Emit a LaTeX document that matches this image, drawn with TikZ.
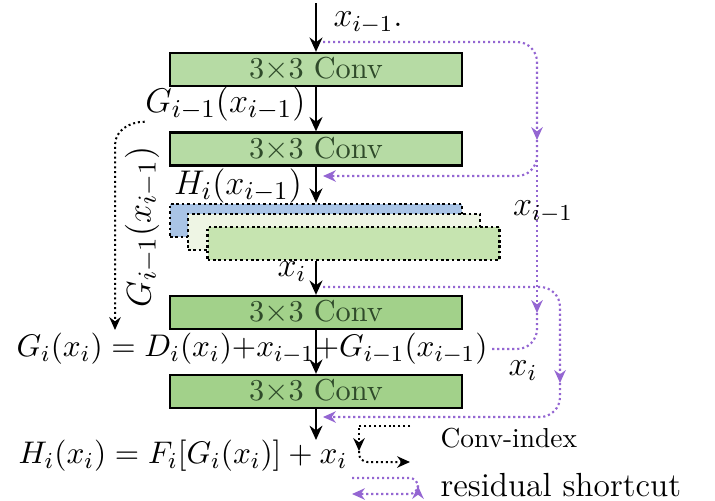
\documentclass[tikz,border=0pt]{standalone}
\usepackage{amsmath}
\usetikzlibrary{arrows.meta}
\definecolor{convgreen}{HTML}{B6DBA4}
\definecolor{convdark}{HTML}{A2D18A}
\definecolor{mapblue}{HTML}{A9C4E6}
\definecolor{mappale}{HTML}{EEF5E4}
\definecolor{mapgreen}{HTML}{C6E4B0}
\definecolor{shortcut}{HTML}{9466D2}
\definecolor{convtext}{HTML}{2F4A2A}

\tikzset{
  convbox/.style={draw, line width=0.8pt, minimum width=102.2pt, minimum height=11.55pt, inner sep=0pt, text=convtext, font=\fontsize{10.6}{12}\selectfont},
  mapbox/.style={draw, densely dotted, line width=0.9pt, minimum width=102.2pt, inner sep=0pt},
  flow/.style={line width=0.8pt, -{Stealth[length=5pt,width=4.5pt]}},
  idx/.style={densely dotted, line width=0.7pt, -{Stealth[length=4.5pt,width=4pt]}},
  res/.style={densely dotted, line width=0.75pt, shortcut, rounded corners=7pt, -{Stealth[length=4.5pt,width=4pt]}},
  lbl/.style={font=\fontsize{13}{15}\selectfont, inner sep=0pt},
  xlbl/.style={font=\fontsize{12}{14}\selectfont, inner sep=0pt},
}

\begin{document}
\begin{tikzpicture}[x=0.35pt,y=-0.35pt]
    \useasboundingbox (0,0) rectangle (715,500);
    % main column
    \node[convbox, fill=convgreen] (conv1) at (316,69.5) {3$\times$3 Conv};
    \node[convbox, fill=convgreen] (conv2) at (316,149) {3$\times$3 Conv};
    \node[mapbox, fill=mapblue, minimum height=11.55pt] (map1) at (316,220.5) {};
    \node[mapbox, fill=mappale, minimum height=12.6pt] (map2) at (334,232) {};
    \node[mapbox, fill=mapgreen, minimum height=11.55pt] (map3) at (353.5,243.5) {};
    \node[convbox, fill=convdark] (conv3) at (316,312.5) {3$\times$3 Conv};
    \node[convbox, fill=convdark] (conv4) at (316,391.5) {3$\times$3 Conv};

    \coordinate (in) at (316,3);
    \coordinate (out) at (316,440);
    \draw[flow] (in) -- (conv1);
    \draw[flow] (conv1) -- (conv2);
    \draw[flow] (conv2) -- (map1.north);
    \draw[flow] (conv3.north |- map3.south) -- (conv3);
    \draw[flow] (conv3) -- (conv4);
    \draw[flow] (conv4) -- (out);

    \node[xlbl, anchor=west] (xin) at (333,23) {$x_{i-1}$.};
    \node[lbl, anchor=east] (g1) at (306,104) {$G_{i-1}(x_{i-1})$};
    \node[lbl] (h1) at (238,186) {$H_i(x_{i-1})$};
    \node[xlbl] (xi) at (292,272) {$x_i$};
    \node[font=\fontsize{11.4}{13}\selectfont, inner sep=1pt] (gform) at (252,349) {$G_i(x_i) = D_i(x_i){+}x_{i-1}{+}G_{i-1}(x_{i-1})$};
    \node[font=\fontsize{11.2}{13}\selectfont, inner sep=0pt] (hform) at (183,456) {$H_i(x_i) = F_i[G_i(x_i)] + x_i$};

    % conv-index path on the left
    \coordinate (gdown) at (115,330);
    \draw[idx] (g1.south west) to[out=180,in=90] (115,145) -- (gdown);
    \node[lbl, rotate=90] (g1rot) at (142,227) {$G_{i-1}(x_{i-1})$};

    % residual shortcuts
    \coordinate (s1) at (323,42);
    \coordinate (r1) at (537,140);
    \coordinate (e1) at (323,176);
    \coordinate (r2) at (537,313);
    \coordinate (s2) at (323,287);
    \coordinate (r3) at (560,383);
    \coordinate (e2) at (323,417);
    \draw[res] (s1) -| (r1);
    \draw[res] (r1) |- (e1);
    \draw[res] (r1) -- (r2);
    \draw[res, -] (r2) |- (gform.east);
    \draw[res] (s2) -| (r3);
    \draw[res] (r3) |- (e2);
    \node[xlbl] (xr1) at (543,212) {$x_{i-1}$};
    \node[xlbl] (xr2) at (523,371) {$x_i$};

    % legend
    \coordinate (la) at (410,426);
    \coordinate (lb) at (359,451);
    \coordinate (lc) at (410,462);
    \draw[idx] (la) -| (lb);
    \draw[idx, rounded corners=3pt] (lb) |- (lc);
    \node[anchor=west, inner sep=0pt, font=\fontsize{9.6}{11}\selectfont] (lconv) at (440,438) {Conv-index};
    \coordinate (ld) at (352,478);
    \coordinate (le) at (418,486);
    \coordinate (lf) at (352,494);
    \draw[res, rounded corners=3pt] (ld) -| (le);
    \draw[res, rounded corners=3pt] (le) |- (lf);
    \node[anchor=west, inner sep=0pt, font=\fontsize{11.7}{13}\selectfont] (lres) at (440,485) {residual shortcut};
\end{tikzpicture}
\end{document}
